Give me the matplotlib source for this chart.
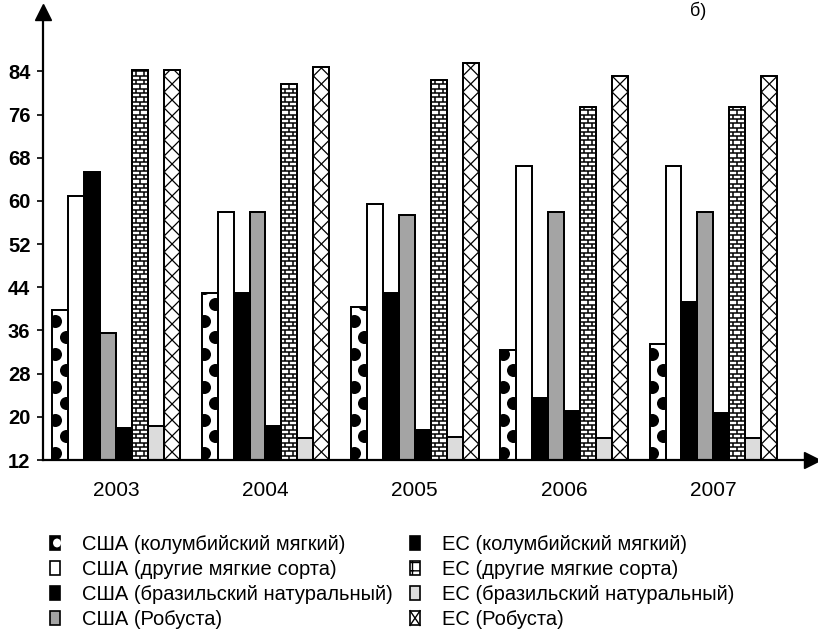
import numpy as np
import matplotlib.pyplot as plt
from matplotlib.patches import Patch, Rectangle, Ellipse
from matplotlib.lines import Line2D
from matplotlib.collections import LineCollection
from matplotlib.legend_handler import HandlerBase

plt.rcParams['font.family'] = ['Liberation Sans', 'DejaVu Sans']

# Data.
years = ['2003', '2004', '2005', '2006', '2007']
usa_colombian = [39.7, 43.0, 40.4, 32.4, 33.4]
usa_other = [61.0, 58.0, 59.5, 66.5, 66.5]
usa_brazil = [65.3, 43.0, 43.0, 23.5, 41.2]
usa_robusta = [35.6, 58.0, 57.3, 57.9, 57.9]
eu_colombian = [18.0, 18.3, 17.6, 21.0, 20.8]
eu_other = [84.2, 81.6, 82.4, 77.4, 77.4]
eu_brazil = [18.3, 16.0, 16.2, 16.1, 16.0]
eu_robusta = [84.2, 84.8, 85.5, 83.1, 83.1]

labels = ['США (колумбийский мягкий)', 'США (другие мягкие сорта)',
          'США (бразильский натуральный)', 'США (Робуста)',
          'ЕС (колумбийский мягкий)', 'ЕС (другие мягкие сорта)',
          'ЕС (бразильский натуральный)', 'ЕС (Робуста)']
series = [usa_colombian, usa_other, usa_brazil, usa_robusta,
          eu_colombian, eu_other, eu_brazil, eu_robusta]
styles = ['dots', 'white', 'black', 'gray', 'black', 'brick', 'light', 'cross']
colors = {'dots': 'white', 'white': 'white', 'black': 'black', 'gray': '#a4a4a4',
          'brick': 'white', 'light': '#dcdcdc', 'cross': 'white'}

ymin, ymax = 12, 95
yticks = list(range(12, 85, 8))

fig = plt.figure(figsize=(8.18, 6.3), dpi=100)
ax = fig.add_axes([43/818, 1 - 460/630, (812 - 43)/818, 448/630])

x = np.arange(len(years))
w = 0.107
px_per_unit = 448 / (ymax - ymin)


def draw_pattern(bar, kind):
    x0 = bar.get_x()
    x1 = x0 + bar.get_width()
    top = bar.get_y() + bar.get_height()
    if kind == 'dots':
        step = 16.5 / px_per_unit
        ys = np.arange(ymin + 1.3, top + step, step)
        xs = np.where(np.arange(len(ys)) % 2 == 0, x0 + 0.17 * w, x1 - 0.17 * w)
        sc = ax.scatter(xs, ys, s=88, c='black', linewidths=0, zorder=3)
        sc.set_clip_path(bar)
    elif kind == 'brick':
        h = 0.8
        segs = []
        rows = np.arange(ymin, top, h)
        for k, y in enumerate(rows):
            segs.append([(x0, y), (x1, y)])
            if k % 2 == 0:
                segs.append([(x0 + w / 2, y), (x0 + w / 2, y + h)])
            else:
                segs.append([(x0 + w / 4, y), (x0 + w / 4, y + h)])
                segs.append([(x0 + 3 * w / 4, y), (x0 + 3 * w / 4, y + h)])
        lc = LineCollection(segs, colors='black', linewidths=1.1, zorder=3)
        ax.add_collection(lc)
        lc.set_clip_path(bar)
    elif kind == 'cross':
        c = 16 / px_per_unit
        segs = []
        for y in np.arange(ymin, top, c):
            segs.append([(x0, y), (x1, y + c)])
            segs.append([(x1, y), (x0, y + c)])
        lc = LineCollection(segs, colors='black', linewidths=0.9, zorder=3)
        ax.add_collection(lc)
        lc.set_clip_path(bar)


for i, (vals, st) in enumerate(zip(series, styles)):
    bars = ax.bar(x + (i - 3.5) * w, vals, w, color=colors[st],
                  edgecolor='black', linewidth=1.3, zorder=2)
    for b in bars:
        draw_pattern(b, st)
    # outline on top of the pattern
    ax.bar(x + (i - 3.5) * w, vals, w, color='none',
           edgecolor='black', linewidth=1.3, zorder=4)

ax.set_xlim(-0.49, 4.66)
ax.set_ylim(ymin, ymax)
ax.set_yticks(yticks)
ax.set_xticks(x)
ax.set_xticklabels(years, fontsize=15)
ax.tick_params(axis='x', length=0, pad=15)
ax.tick_params(axis='y', length=4, width=1.2, pad=5, labelsize=14.5)
for t in ax.get_yticklabels():
    t.set_fontweight('bold')
for s in ['top', 'right']:
    ax.spines[s].set_visible(False)
for s in ['left', 'bottom']:
    ax.spines[s].set_linewidth(1.6)

# axis arrows
ax.plot(0, 1, marker='^', color='black', ms=11, transform=ax.transAxes, clip_on=False)
ax.plot(1, 0, marker='>', color='black', ms=11, transform=ax.transAxes, clip_on=False)

fig.text(0.853, 0.998, 'б)', ha='center', va='top', fontsize=13)


# legend handles
class PatternHandler(HandlerBase):
    def __init__(self, kind):
        super().__init__()
        self.kind = kind

    def create_artists(self, legend, orig_handle, xdescent, ydescent,
                       width, height, fontsize, trans):
        x0, y0 = -xdescent, -ydescent
        arts = []
        if self.kind == 'dots':
            arts.append(Rectangle((x0, y0), width, height, fc='black', ec='black',
                                  lw=1.2, transform=trans))
            arts.append(Ellipse((x0 + width * 0.7, y0 + height * 0.5), width * 0.8,
                                height * 0.6, fc='white', ec='none', transform=trans))
        elif self.kind == 'cross':
            arts.append(Rectangle((x0, y0), width, height, fc='white', ec='black',
                                  lw=1.2, transform=trans))
            arts.append(Line2D([x0, x0 + width], [y0, y0 + height], color='black',
                               lw=1.0, transform=trans))
            arts.append(Line2D([x0, x0 + width], [y0 + height, y0], color='black',
                               lw=1.0, transform=trans))
        return arts


handles = []
hmap = {}
for st in styles:
    if st == 'brick':
        p = Patch(facecolor='white', edgecolor='black', hatch='++', lw=1.2)
    else:
        p = Patch(facecolor=colors[st], edgecolor='black', lw=1.2)
    if st in ('dots', 'cross'):
        hmap[p] = PatternHandler(st)
    handles.append(p)

kw = dict(loc='upper left', frameon=False, fontsize=14.5, handlelength=0.5,
          handleheight=0.75, handletextpad=1.1, labelspacing=0.3,
          borderpad=0, borderaxespad=0, handler_map=hmap)
fig.legend(handles[:4], labels[:4], bbox_to_anchor=(50/818, 1 - 535/630), **kw)
fig.legend(handles[4:], labels[4:], bbox_to_anchor=(410/818, 1 - 535/630), **kw)

fig.savefig('out.png', dpi=100)
